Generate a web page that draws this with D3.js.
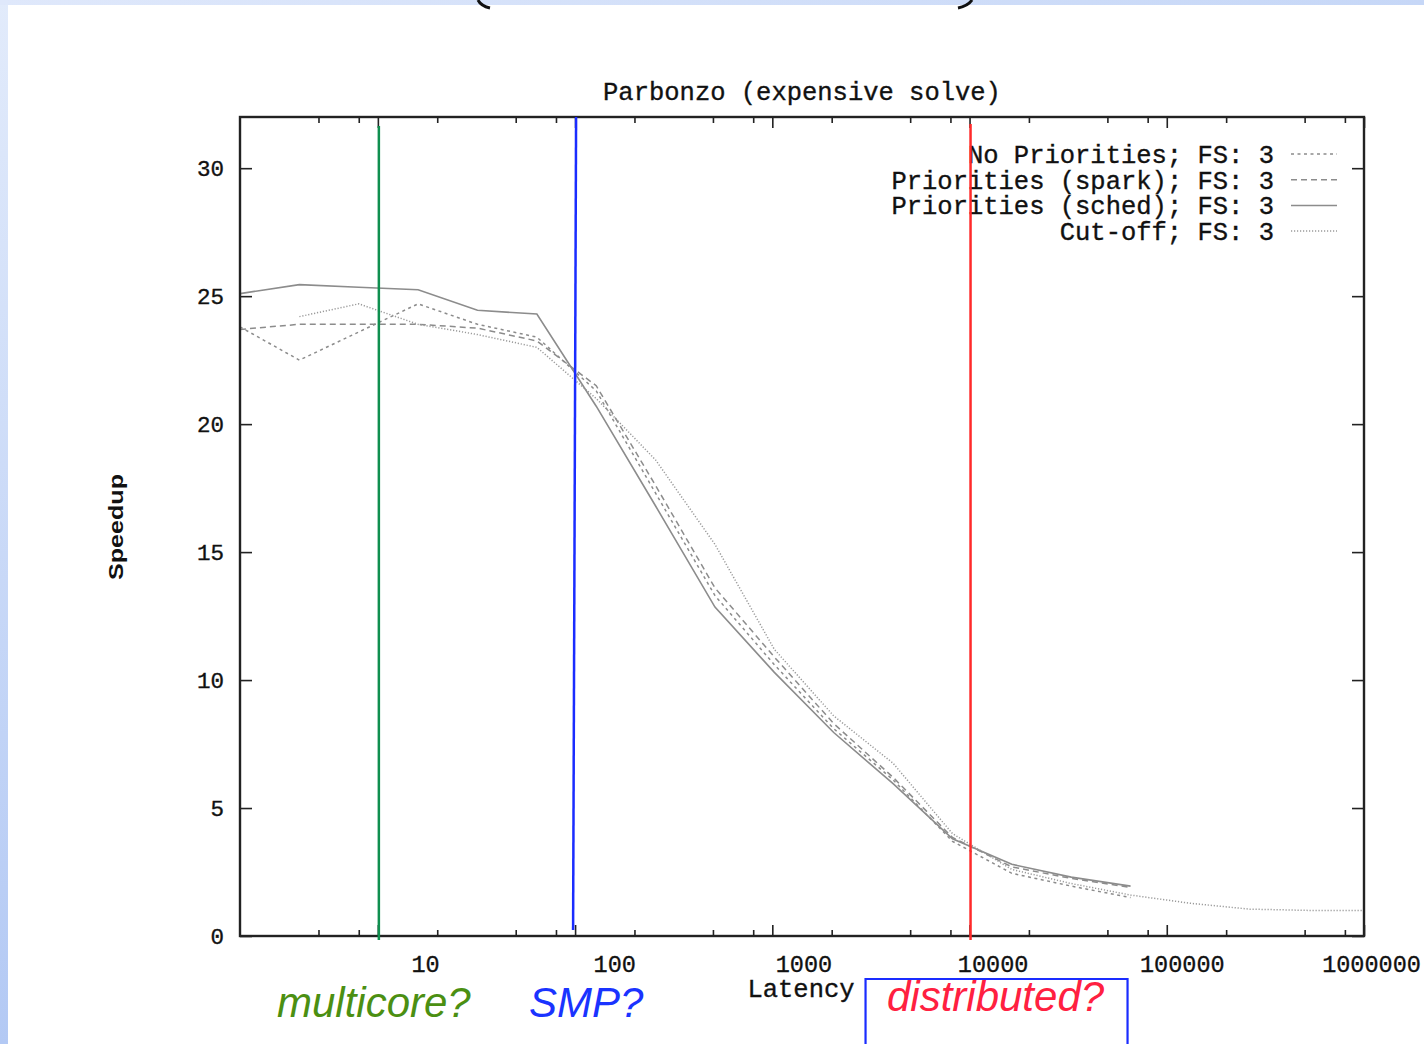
<!DOCTYPE html>
<html>
<head>
<meta charset="utf-8">
<script src="https://cdn.jsdelivr.net/npm/d3@7"></script>
<style>
    body { margin: 0; background: #fff; }
    svg { display: block; }
    .mono { font-family: "Courier New", "Liberation Mono", monospace; fill: #111; stroke: #111; stroke-width: 0.35px; }
    .axis path { display: none; }
    .axis line { stroke: #222; stroke-width: 1.6; }
</style>
</head>
<body>
<svg id="chart" width="1424" height="1044"></svg>
<script>
// Latency values (x) for the first three series, powers of two
const latency = [2, 4, 8, 16, 32, 64, 128, 256, 512, 1024, 2048, 4096, 8192, 16384, 32768, 65536];
// Cut-off runs from 4 up past the right edge
const cutLatency = [4, 8, 16, 32, 64, 128, 256, 512, 1024, 2048, 4096, 8192, 16384, 32768, 65536, 131072, 262144, 524288, 1048576];

const noPriorities = [23.8, 22.5, 23.6, 24.7, 23.9, 23.4, 21.3, 17.3, 13.3, 10.6, 8.1, 6.1, 3.7, 2.45, 1.95, 1.5];
const prioSpark = [23.7, 23.9, 23.9, 23.9, 23.75, 23.25, 21.5, 17.6, 13.6, 10.9, 8.3, 6.2, 3.85, 2.7, 2.25, 1.9];
const prioSched = [25.1, 25.45, 25.35, 25.25, 24.45, 24.3, 20.7, 16.8, 12.85, 10.3, 7.95, 5.95, 3.8, 2.8, 2.3, 1.95];
const cutOff = [24.2, 24.7, 23.9, 23.5, 23.0, 21.0, 18.6, 15.3, 11.2, 8.6, 6.75, 4.0, 2.6, 2.05, 1.6, 1.28, 1.05, 1.0, 1.0];

const seriesNames = ["No Priorities; FS: 3", "Priorities (spark); FS: 3", "Priorities (sched); FS: 3", "Cut-off; FS: 3"];
const seriesDash = ["3,3.5", "6,4", null, "1.2,1.8"];

const xMajorTicks = [10, 100, 1000, 10000, 100000, 1000000];
const xMinorTicks = [5, 8, 20, 50, 80, 200, 500, 800, 2000, 5000, 8000, 20000, 50000, 80000, 200000, 500000, 800000];
const yTicks = [0, 5, 10, 15, 20, 25, 30];

// hand-drawn annotations on the slide
const regionLabels = ["multicore?", "SMP?", "distributed?"];
const regionLatency = [10, 100, 10000];
const regionColors = ["#0f8f4f", "#1a2cff", "#ff2a2a"];
const regionTextColors = ["#4b8f12", "#1a33ff", "#ff2040"];

const svg = d3.select("#chart");
const margin = { top: 117, right: 60, bottom: 108, left: 240 };
const width = 1424 - margin.left - margin.right;
const height = 1044 - margin.top - margin.bottom;

// slide background bits
const defs = svg.append("defs");
const lg = defs.append("linearGradient").attr("id", "leftGrad")
    .attr("x1", 0).attr("y1", 0).attr("x2", 0).attr("y2", 1);
lg.append("stop").attr("offset", "0%").attr("stop-color", "#e2ebfb");
lg.append("stop").attr("offset", "100%").attr("stop-color", "#b3c9f4");
const tg = defs.append("linearGradient").attr("id", "topGrad")
    .attr("x1", 0).attr("y1", 0).attr("x2", 1).attr("y2", 0);
tg.append("stop").attr("offset", "0%").attr("stop-color", "#dfe8fb");
tg.append("stop").attr("offset", "100%").attr("stop-color", "#c6d7f7");
defs.append("clipPath").attr("id", "plotClip")
    .append("rect").attr("width", width).attr("height", height);

svg.append("rect").attr("width", 1424).attr("height", 1044).attr("fill", "#fff");
svg.append("rect").attr("x", 0).attr("y", 0).attr("width", 8).attr("height", 1044).attr("fill", "url(#leftGrad)");
svg.append("rect").attr("x", 0).attr("y", 0).attr("width", 1424).attr("height", 5).attr("fill", "url(#topGrad)");
// bottoms of the cut-off slide title brackets
svg.append("path").attr("d", "M478,0 Q481,6 490,8").attr("fill", "none").attr("stroke", "#111").attr("stroke-width", 3);
svg.append("path").attr("d", "M972,0 Q968,6 958,8").attr("fill", "none").attr("stroke", "#111").attr("stroke-width", 3);

const g = svg.append("g").attr("transform", "translate(" + margin.left + "," + margin.top + ")");

const xScale = d3.scaleLog().domain([2, 1000000]).range([0, width]);
const yScale = d3.scaleLinear().domain([0, 32]).range([height, 0]);
// gnuplot put its tick labels a little off the ticks
const xLabelScale = d3.scaleLog().domain([10, 1000000]).range([185, 1131]);

// ticks, all pointing inwards
g.append("g").attr("class", "axis").attr("transform", "translate(0," + height + ")")
    .call(d3.axisTop(xScale).tickValues(xMajorTicks).tickSize(11).tickFormat(""));
g.append("g").attr("class", "axis").attr("transform", "translate(0," + height + ")")
    .call(d3.axisTop(xScale).tickValues(xMinorTicks).tickSize(6).tickFormat(""));
g.append("g").attr("class", "axis")
    .call(d3.axisBottom(xScale).tickValues(xMajorTicks).tickSize(11).tickFormat(""));
g.append("g").attr("class", "axis")
    .call(d3.axisBottom(xScale).tickValues(xMinorTicks).tickSize(6).tickFormat(""));
g.append("g").attr("class", "axis")
    .call(d3.axisRight(yScale).tickValues(yTicks).tickSize(12).tickFormat(""));
g.append("g").attr("class", "axis").attr("transform", "translate(" + width + ",0)")
    .call(d3.axisLeft(yScale).tickValues(yTicks).tickSize(12).tickFormat(""));

// tick labels
const xLab = g.append("g").attr("transform", "translate(0," + height + ")")
    .call(d3.axisBottom(xLabelScale).tickValues(xMajorTicks).tickSize(0).tickPadding(19).tickFormat(d3.format("d")));
xLab.select(".domain").remove();
xLab.selectAll("text").attr("class", "mono").style("font-size", "23.5px").attr("fill", "#111");

const yLab = g.append("g")
    .call(d3.axisLeft(yScale).tickValues(yTicks).tickSize(0).tickPadding(16));
yLab.select(".domain").remove();
yLab.selectAll("text").attr("class", "mono").style("font-size", "22.5px").attr("fill", "#111");

// data lines
const line = d3.line()
    .x(function (d) { return xScale(d.x); })
    .y(function (d) { return yScale(d.y); });

const series = [
    latency.map((x, i) => ({ x: x, y: noPriorities[i] })),
    latency.map((x, i) => ({ x: x, y: prioSpark[i] })),
    latency.map((x, i) => ({ x: x, y: prioSched[i] })),
    cutLatency.map((x, i) => ({ x: x, y: cutOff[i] }))
];

const lines = g.append("g").attr("clip-path", "url(#plotClip)");
series.forEach((data, i) => {
    lines.append("path")
        .datum(data)
        .attr("fill", "none")
        .attr("stroke", i === 3 ? "#9a9a9a" : "#8c8c8c")
        .attr("stroke-width", i === 2 ? 1.6 : 1.5)
        .attr("stroke-dasharray", seriesDash[i])
        .attr("d", line);
});

// border
g.append("rect").attr("width", width).attr("height", height)
    .attr("fill", "none").attr("stroke", "#222").attr("stroke-width", 2.4);

// title + axis names
g.append("text").attr("class", "mono")
    .attr("x", width / 2).attr("y", -17)
    .attr("text-anchor", "middle").style("font-size", "25.5px")
    .text("Parbonzo (expensive solve)");

svg.append("text").attr("class", "mono")
    .attr("x", 801).attr("y", 997)
    .attr("text-anchor", "middle").style("font-size", "25.5px")
    .text("Latency");

svg.append("text")
    .attr("transform", "translate(123,527) rotate(-90)")
    .attr("text-anchor", "middle")
    .attr("textLength", 106).attr("lengthAdjust", "spacingAndGlyphs")
    .style("font-family", "'Liberation Sans', Arial, sans-serif")
    .style("font-weight", "bold").style("font-size", "21px").attr("fill", "#111")
    .text("Speedup");

// legend
const legend = g.append("g");
seriesNames.forEach((name, i) => {
    const ly = 37 + i * 25.7;
    legend.append("text").attr("class", "mono")
        .attr("x", 1034).attr("y", ly).attr("dy", "0.35em")
        .attr("text-anchor", "end").style("font-size", "25.5px")
        .text(name);
    legend.append("line")
        .attr("x1", 1051).attr("x2", 1097).attr("y1", ly).attr("y2", ly)
        .attr("stroke", i === 3 ? "#9a9a9a" : "#8c8c8c").attr("stroke-width", 1.5)
        .attr("stroke-dasharray", seriesDash[i]);
});

// annotation lines and words
const lineTops = [126, 117, 124];
const lineBottoms = [940, 930, 940];
const textShift = [-4, 11, 26];
const textBase = [1017, 1017, 1011];
regionLatency.forEach((v, i) => {
    const px = margin.left + xScale(v);
    svg.append("line")
        .attr("x1", px + 1).attr("x2", px + (i === 1 ? -2 : 1))
        .attr("y1", lineTops[i]).attr("y2", lineBottoms[i])
        .attr("stroke", regionColors[i]).attr("stroke-width", 2.5);
    svg.append("text")
        .attr("x", px + textShift[i]).attr("y", textBase[i])
        .attr("text-anchor", "middle")
        .style("font-family", "'Liberation Sans', Arial, sans-serif")
        .style("font-style", "italic").style("font-size", "42px")
        .attr("fill", regionTextColors[i])
        .text(regionLabels[i]);
});

// box round "distributed?"
const boxX = margin.left + xScale(10000) - 104;
svg.append("path")
    .attr("d", "M" + boxX + ",1046 V979 H" + (boxX + 262) + " V1046")
    .attr("fill", "none").attr("stroke", "#1a2cff").attr("stroke-width", 2.2);
</script>
</body>
</html>
